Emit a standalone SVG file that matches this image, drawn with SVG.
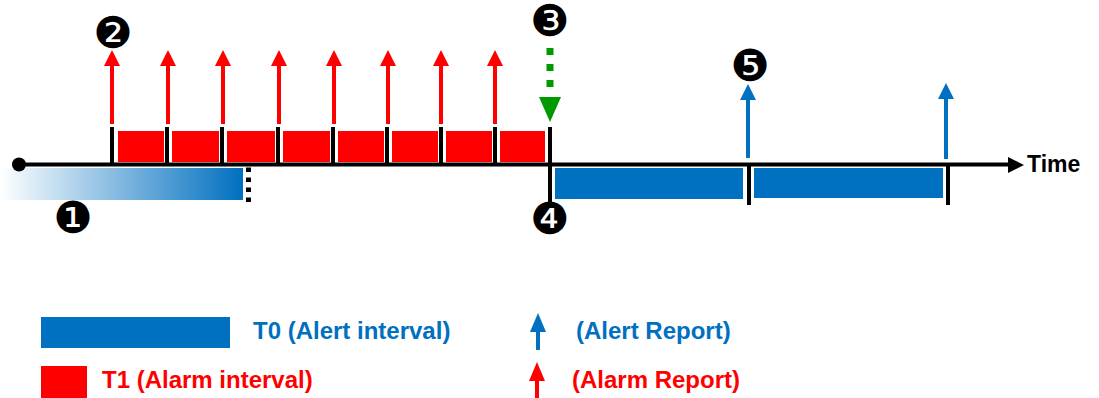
<svg xmlns="http://www.w3.org/2000/svg" width="1099" height="398" viewBox="0 0 1099 398">
  <style>
    .tick { stroke: #000; stroke-width: 4; }
    .axis { stroke: #000; stroke-width: 4; }
    .red { fill: #FF0000; }
    .blue { fill: #0070C0; }
    .rshaft { stroke: #FF0000; stroke-width: 4; }
    .bshaft { stroke: #0070C0; stroke-width: 4; }
    .num { font-family: "DejaVu Sans", sans-serif; font-size: 44px; fill: #000; text-anchor: middle; }
    .lbl { font-family: "Liberation Sans", Arial, sans-serif; font-weight: bold; font-size: 24px; }
    .time { font-family: "Liberation Sans", Arial, sans-serif; font-weight: bold; font-size: 23px; }
  </style>
  <defs>
    <linearGradient id="fade" x1="0" y1="0" x2="1" y2="0">
      <stop offset="0" stop-color="#FFFFFF"/>
      <stop offset="1" stop-color="#0070C0"/>
    </linearGradient>
  </defs>

  <g id="intervals">
    <rect x="0" y="168" width="243" height="32" fill="url(#fade)"/>
    <rect class="red" x="118" y="131" width="46" height="31"/>
    <rect class="red" x="172" y="131" width="47" height="31"/>
    <rect class="red" x="227" y="131" width="48" height="31"/>
    <rect class="red" x="283" y="131" width="47" height="31"/>
    <rect class="red" x="338" y="131" width="46" height="31"/>
    <rect class="red" x="392" y="131" width="46" height="31"/>
    <rect class="red" x="446" y="131" width="46" height="31"/>
    <rect class="red" x="500" y="131" width="45" height="31"/>
    <rect class="blue" x="555" y="168" width="188" height="31"/>
    <rect class="blue" x="754" y="168" width="189" height="30"/>
  </g>

  <g id="timeline">
    <line class="axis" x1="19" y1="164.5" x2="1010" y2="164.5"/>
    <polygon points="1008,157 1024,165 1008,173" fill="#000"/>
    <circle cx="19" cy="164.5" r="7" fill="#000"/>
    <text class="time" x="1027" y="172" fill="#000">Time</text>
  </g>

  <g id="ticks">
    <line class="tick" x1="112" y1="127" x2="112" y2="164"/>
    <line class="tick" x1="167" y1="127" x2="167" y2="164"/>
    <line class="tick" x1="222" y1="127" x2="222" y2="164"/>
    <line class="tick" x1="278" y1="127" x2="278" y2="164"/>
    <line class="tick" x1="333" y1="127" x2="333" y2="164"/>
    <line class="tick" x1="387" y1="127" x2="387" y2="164"/>
    <line class="tick" x1="441" y1="127" x2="441" y2="164"/>
    <line class="tick" x1="495" y1="127" x2="495" y2="164"/>
    <line class="tick" x1="550" y1="127" x2="550" y2="203"/>
    <line class="tick" x1="749" y1="164" x2="749" y2="205"/>
    <line class="tick" x1="948" y1="164" x2="948" y2="205"/>
    <line x1="248.5" y1="167.5" x2="248.5" y2="203" stroke="#000" stroke-width="5" stroke-dasharray="4.5 5.5"/>
  </g>

  <g id="connectors">
    <g id="alarm-reports">
      <line class="rshaft" x1="112" y1="124" x2="112" y2="64"/><polygon class="red" points="104,66 112,50 120,66"/>
      <line class="rshaft" x1="168" y1="124" x2="168" y2="64"/><polygon class="red" points="160,66 168,50 176,66"/>
      <line class="rshaft" x1="223" y1="124" x2="223" y2="64"/><polygon class="red" points="215,66 223,50 231,66"/>
      <line class="rshaft" x1="279" y1="124" x2="279" y2="64"/><polygon class="red" points="271,66 279,50 287,66"/>
      <line class="rshaft" x1="334" y1="124" x2="334" y2="64"/><polygon class="red" points="326,66 334,50 342,66"/>
      <line class="rshaft" x1="388" y1="124" x2="388" y2="64"/><polygon class="red" points="380,66 388,50 396,66"/>
      <line class="rshaft" x1="441" y1="124" x2="441" y2="64"/><polygon class="red" points="433,66 441,50 449,66"/>
      <line class="rshaft" x1="495" y1="124" x2="495" y2="64"/><polygon class="red" points="487,66 495,50 503,66"/>
    </g>
    <g id="alert-reports">
      <line class="bshaft" x1="748" y1="158" x2="748" y2="98"/><polygon class="blue" points="740,100 748,84 756,100"/>
      <line class="bshaft" x1="946" y1="159" x2="946" y2="97"/><polygon class="blue" points="938,99 946,83 954,99"/>
    </g>
    <g id="trigger">
      <line x1="550" y1="48" x2="550" y2="96" stroke="#009900" stroke-width="7" stroke-dasharray="7 9"/>
      <polygon points="539,97 561,97 550,122" fill="#009900"/>
    </g>
  </g>

  <g id="n1"><text class="num" x="73" y="233">❶</text></g>
  <g id="n2"><text class="num" x="113" y="48">❷</text></g>
  <g id="n3"><text class="num" x="550" y="36">❸</text></g>
  <g id="n4"><text class="num" x="550" y="234">❹</text></g>
  <g id="n5"><text class="num" x="750" y="81">❺</text></g>

  <g id="legend">
    <rect class="blue" x="41" y="317" width="189" height="31"/>
    <text class="lbl" x="253" y="339" fill="#0070C0">T0 (Alert interval)</text>
    <rect class="red" x="41" y="366" width="46" height="32"/>
    <text class="lbl" x="102" y="388" fill="#FF0000">T1 (Alarm interval)</text>
    <line class="bshaft" x1="538" y1="330" x2="538" y2="350"/><polygon class="blue" points="530,332 538,313 546,332"/>
    <text class="lbl" x="576" y="339" fill="#0070C0">(Alert Report)</text>
    <line class="rshaft" x1="537" y1="379" x2="537" y2="398"/><polygon class="red" points="529,381 537,362 545,381"/>
    <text class="lbl" x="572" y="388" fill="#FF0000">(Alarm Report)</text>
  </g>
</svg>
